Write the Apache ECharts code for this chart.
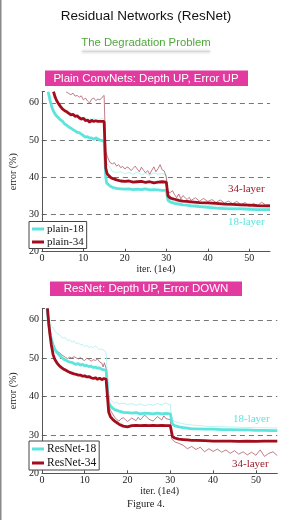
<!DOCTYPE html>
<html>
<head>
<meta charset="utf-8">
<script src="https://cdn.jsdelivr.net/npm/echarts@6/dist/echarts.min.js"></script>
<style>
html,body{margin:0;padding:0;background:#fff;}
#main{width:292px;height:520px;}
</style>
</head>
<body>
<div id="main"></div>
<script>
// axis ticks
var yTicks = [20, 30, 40, 50, 60];
var xTicks = [0, 10, 20, 30, 40, 50];

// plain nets (top chart): [iter (1e4), error %]
var plain18Val = [[1.5,63],[1.7,62],[2,60.5],[2.5,58.5],[3,57.3],[3.5,56.5],[4,56],[4.5,55.4],[5,55],[5.5,54.3],[6,54],[6.5,53.5],[7,53.2],[7.5,52.8],[8,52.5],[8.5,52.1],[9,52],[9.5,51.6],[10,51.2],[10.5,50.8],[11,50.9],[11.5,50.5],[12,50.6],[12.5,50.2],[13,50.6],[13.5,50.3],[14,50],[14.5,49.9],[15,49.6],[15.2,49.5],[15.4,40],[15.6,38.5],[16,38],[16.5,37.6],[17,37.3],[18,37],[19,36.9],[20,36.8],[21,36.9],[22,36.7],[23,36.8],[24,36.7],[25,36.9],[26,36.6],[27,36.7],[28,36.6],[29,36.5],[30,36.5],[30.2,36.4],[30.4,33.8],[31,33.3],[32,33],[33,32.8],[34,32.6],[35,32.5],[36,32.3],[38,32.1],[40,31.9],[42,31.7],[44,31.6],[46,31.5],[48,31.5],[50,31.4],[52,31.3],[55,31.3]];
var plain34Val = [[2.8,63],[3.2,61.5],[3.6,60.5],[4,59.8],[4.5,59],[5,58.3],[5.5,57.9],[6,57.6],[6.5,57.2],[7,56.8],[7.5,56.9],[8,56.4],[8.5,56.5],[9,56],[9.5,55.6],[10,55.9],[10.5,55.2],[11,55.4],[11.5,54.8],[12,55.3],[12.5,55],[13,55.2],[13.5,55],[14,55],[14.5,55],[15,55],[15.2,55],[15.4,42.5],[15.7,41],[16,40.5],[16.5,40],[17,39.7],[18,39.3],[19,39],[20,38.9],[21,39],[22,38.7],[23,38.8],[24,38.9],[25,38.6],[26,38.8],[27,38.5],[28,38.7],[29,38.8],[30,38.7],[30.2,38.6],[30.4,35],[31,34.4],[32,34.1],[33,33.8],[34,33.6],[35,33.5],[36,33.4],[38,33.2],[40,33.1],[42,33],[44,32.8],[46,32.7],[48,32.6],[50,32.5],[52,32.4],[55,32.3]];
var plain18Train = [[3,63],[4,60],[5,58.5],[6,57.5],[7,56.5],[7.5,57],[8,56],[8.5,56.6],[9,55.6],[9.5,56.2],[10,55.5],[10.5,56],[11,55],[11.5,55.8],[12,55.5],[12.5,56],[13,55.2],[13.5,55.8],[14,55.3],[14.5,56],[15,55.5],[15.2,55.6],[15.4,44],[16,43.2],[16.5,42.5],[17,41.6],[18,41.2],[19,41.5],[20,40.9],[21,41.3],[22,40.8],[23,41.4],[24,40.7],[25,41.1],[26,40.5],[27,41.2],[28,40.8],[29,41],[30,40.6],[30.2,40.6],[30.4,34.5],[31,34],[32,33.5],[33,33.2],[34,33.4],[36,32.9],[38,32.6],[40,32.4],[43,32.2],[46,32],[50,31.9],[55,31.8]];
var plain34Train = [[5.8,63],[6.5,62.5],[7,62.2],[7.5,62.6],[8,61.8],[8.5,62],[9,61.5],[9.5,61.9],[10,60.8],[10.5,61.3],[11,60.5],[11.5,60],[12,61],[12.5,61.3],[13,60.6],[13.5,61],[14,60.8],[14.5,61.5],[15,62],[15.2,61.8],[15.4,47],[15.8,45.5],[16.4,44],[17,43.6],[17.5,43.9],[18,43],[18.5,43.4],[19,42.6],[19.5,42.9],[20,42.2],[20.5,42.8],[21,42.5],[21.5,41.8],[22,42.4],[22.5,43],[23,42.2],[23.5,41.5],[24,42.7],[24.5,41.9],[25,41.2],[25.5,41.8],[26,40.8],[26.5,41.9],[27,42.8],[27.5,41.5],[28,42.3],[28.5,43.4],[29,42],[29.5,41.7],[30,40],[30.3,36.5],[30.8,35.8],[31.5,36.4],[32,35.3],[32.5,34.5],[33,35.5],[33.5,34.2],[34,35.1],[35,34],[35.5,34.6],[36,33.8],[37,34.5],[38,33.6],[39,34.3],[40,33.5],[41,34],[42,33.2],[43,33.9],[44,33.1],[45,33.6],[46,32.9],[47,33.5],[48,32.7],[49,33.2],[50,32.1],[51,33],[52,32.4],[53,33.3],[54,32.5],[55,32.6]];

// resnets (bottom chart)
var res18Val = [[1.2,63],[1.5,60],[1.8,57],[2.2,55],[2.6,53.5],[3,52.4],[3.5,51.5],[4,50.9],[4.5,50.3],[5,49.8],[5.5,49.5],[6,49.2],[6.5,49],[7,48.9],[7.5,48.6],[8,48.4],[8.5,48.6],[9,48.2],[9.5,48.4],[10,48],[10.5,48.1],[11,47.8],[11.5,47.9],[12,47.6],[12.5,47.7],[13,47.4],[13.5,47.5],[14,47.1],[14.5,47],[15,46.8],[15.3,46.6],[15.6,38.5],[16,37.6],[16.5,37],[17,36.6],[18,36.2],[19,35.9],[20,35.8],[21,35.7],[22,35.8],[23,35.5],[24,35.7],[25,35.6],[26,35.5],[27,35.7],[28,35.5],[29,35.6],[30,35.5],[30.2,35.4],[30.5,32.8],[31,32.4],[32,32.1],[33,31.9],[34,31.8],[35,31.6],[36,31.6],[38,31.5],[40,31.5],[42,31.4],[44,31.4],[46,31.3],[48,31.3],[50,31.2],[52,31.2],[54,31.1],[55,31.1]];
var res34Val = [[1.3,63],[1.6,59],[1.9,56],[2.2,53.5],[2.6,51],[3,49.7],[3.5,48.8],[4,48.1],[4.5,47.6],[5,47.2],[5.5,46.9],[6,46.6],[6.5,46.3],[7,46.1],[7.5,45.9],[8,45.8],[8.5,45.6],[9,45.6],[9.5,45.3],[10,45.4],[10.5,45.1],[11,45.2],[11.5,44.9],[12,44.7],[12.5,44.9],[13,44.5],[13.5,44.8],[14,44.4],[14.5,44.7],[15,44.5],[15.3,44.3],[15.6,36],[16,34.8],[16.5,34.1],[17,33.6],[17.5,33.2],[18,32.8],[19,32.3],[20,32.1],[21,32.4],[22,32.5],[23,32.4],[24,32.5],[25,32.4],[26,32.5],[27,32.4],[28,32.5],[29,32.4],[30,32.4],[30.2,32.3],[30.5,29.6],[31,29.2],[32,28.9],[33,28.8],[34,28.7],[35,28.6],[36,28.6],[38,28.5],[40,28.4],[42,28.4],[44,28.4],[46,28.3],[48,28.4],[50,28.3],[52,28.4],[55,28.4]];
var res18Train = [[1.1,63],[1.6,60],[2.2,58.5],[3,57.2],[3.5,56.5],[4,56.2],[4.5,55.6],[5,55.2],[5.5,55.4],[6,54.6],[6.5,54.8],[7,54.2],[7.5,54.5],[8,53.8],[8.5,54],[9,53.5],[9.5,53.6],[10,53],[10.5,53.4],[11,52.8],[11.5,53],[12,52.7],[12.5,53.2],[13,52.6],[13.5,52.2],[14,52.4],[14.5,52],[15,51.5],[15.3,51.2],[15.6,40],[16,39.2],[16.5,38.7],[17,38.3],[17.5,38.6],[18,38],[19,38.3],[20,37.9],[21,38.2],[22,37.7],[23,38.1],[24,37.6],[25,38],[26,37.7],[27,38.2],[28,37.8],[29,38.4],[29.5,37.9],[30,38],[30.3,34],[31,33.5],[32,33.2],[33,32.9],[34,32.7],[36,32.5],[38,32.3],[40,32.2],[43,32.1],[46,32],[50,31.9],[55,31.8]];
var res34Train = [[1.3,63],[1.8,58],[2.3,55],[3,52.5],[3.5,51.8],[4,51.5],[4.5,51],[5,50.6],[5.5,50.2],[6,49.9],[6.5,50.3],[7,50],[7.5,50.4],[8,50.1],[8.5,49.8],[9,50.2],[9.5,49.6],[10,49.4],[10.5,50],[11,49.7],[11.5,49.2],[12,49.6],[12.5,49.4],[13,49.8],[13.5,49],[14,48.7],[14.3,47.7],[14.6,48.8],[15,47.3],[15.3,47],[15.6,38],[16,36.5],[16.5,35.5],[17,34.6],[17.5,34],[18,33.6],[18.5,34.2],[19,34.5],[19.5,34],[20,33.5],[21,34.4],[22,33.7],[22.5,34.6],[23,33.9],[24,35.2],[25,34.1],[26,33.6],[27,34.8],[28,33.9],[28.5,35],[29,34.2],[30,34],[30.3,29],[31,28.2],[32,27.8],[33,27.3],[34,26.4],[35,27],[36,26.2],[37,26.8],[38,25.6],[39,26.4],[40,25.7],[41,26.3],[42,25.5],[43,26.1],[44,25.2],[45,25.9],[46,25],[47,25.6],[48,24.8],[49,25.5],[50,24.7],[51,26.1],[52,24.4],[53,25.2],[54,25.6],[55,24.6]];

var CYAN = '#5ce4dd', CYAN_LT = '#b4f0ee', RED = '#a20c1c', RED_LT = '#ad5c68';
var SERIF = '"Liberation Serif", "DejaVu Serif", serif';
var SANS = '"Liberation Sans", Arial, sans-serif';

function xAx(i){
    return {
        gridIndex:i, type:'value', min:0, max:55, interval:10,
        name:'iter. (1e4)', nameLocation:'middle', nameGap:11,
        nameTextStyle:{fontFamily:SERIF, fontSize:10, color:'#222'},
        axisLine:{lineStyle:{color:'#555', width:1}},
        axisTick:{inside:true, length:3, lineStyle:{color:'#555'}},
        axisLabel:{margin:2, fontFamily:SERIF, fontSize:10, color:'#222', showMaxLabel:false,
            formatter:function(v){ return xTicks.indexOf(v) >= 0 ? v : ''; }},
        splitLine:{show:false}
    };
}
function yAx(i){
    return {
        gridIndex:i, type:'value', min:20, max:63, interval:10,
        name:'error (%)', nameLocation:'middle', nameGap:14,
        nameTextStyle:{fontFamily:SERIF, fontSize:10, color:'#222'},
        axisLine:{show:true, lineStyle:{color:'#555', width:1}},
        axisTick:{inside:true, length:3, lineStyle:{color:'#555'}},
        axisLabel:{margin:3, fontFamily:SERIF, fontSize:10, color:'#222',
            formatter:function(v){ return yTicks.indexOf(v) >= 0 ? v : ''; }},
        splitLine:{show:true, showMinLine:false, showMaxLine:false,
            lineStyle:{color:'#777', type:[5,4], width:1}}
    };
}
function line(name, data, i, color, w, z){
    return {
        name:name, type:'line', xAxisIndex:i, yAxisIndex:i, data:data,
        showSymbol:false, symbol:'none', z:z,
        lineStyle:{color:color, width:w}, itemStyle:{color:color}
    };
}
function label(x, y, txt, color){
    return {type:'text', left:x, top:y, style:{text:txt, fill:color, font:'11px ' + SERIF}};
}

var chart = echarts.init(document.getElementById('main'));
chart.setOption({
    animation:false,
    grid:[
        {left:27.7, right:22, top:91.7, bottom:268.3},
        {left:26.7, right:14.7, top:308.3, bottom:46.7}
    ],
    xAxis:[xAx(0), xAx(1)],
    yAxis:[yAx(0), yAx(1)],
    legend:[
        {data:['plain-18','plain-34'], orient:'vertical', left:29, top:221.5,
         itemWidth:12, itemHeight:3, itemGap:2, icon:'rect', padding:[2,3,1,3],
         borderColor:'#444', borderWidth:1, backgroundColor:'#fff',
         textStyle:{fontFamily:SERIF, fontSize:11, color:'#111', padding:[0,0,0,-2]}},
        {data:['ResNet-18','ResNet-34'], orient:'vertical', left:29, top:441,
         itemWidth:12, itemHeight:3, itemGap:2, icon:'rect', padding:[2,3,1,3],
         borderColor:'#444', borderWidth:1, backgroundColor:'#fff',
         textStyle:{fontFamily:SERIF, fontSize:11.5, color:'#111', padding:[0,0,0,-2]}}
    ],
    series:[
        line('plain-18 train', plain18Train, 0, CYAN_LT, 0.9, 2),
        line('plain-34 train', plain34Train, 0, RED_LT, 0.8, 3),
        line('plain-18', plain18Val, 0, CYAN, 2.8, 4),
        line('plain-34', plain34Val, 0, RED, 2.8, 5),
        line('ResNet-18 train', res18Train, 1, CYAN_LT, 0.9, 2),
        line('ResNet-34 train', res34Train, 1, RED_LT, 0.8, 3),
        line('ResNet-18', res18Val, 1, CYAN, 2.8, 4),
        line('ResNet-34', res34Val, 1, RED, 2.8, 5)
    ],
    graphic:[
        {type:'rect', left:0, top:0, shape:{width:1.5, height:520}, style:{fill:'#8a8a8a'}},
        {type:'text', left:'center', top:9, style:{text:'Residual Networks (ResNet)', fill:'#111', font:'13.5px ' + SANS}},
        {type:'rect', left:82, top:51, shape:{width:128, height:1}, style:{fill:'#d8d8d8', shadowBlur:3, shadowColor:'#999'}},
        {type:'text', left:'center', top:37, style:{text:'The Degradation Problem', fill:'#4ea83a', font:'11.3px ' + SANS}},
        {type:'rect', left:45, top:70.5, shape:{width:203, height:15.5}, style:{fill:'#e23a9f'}},
        {type:'text', left:'center', top:72.5, style:{text:'Plain ConvNets: Depth UP, Error UP', fill:'#fff', font:'11.5px ' + SANS}},
        {type:'rect', left:50, top:281.5, shape:{width:192, height:14.5}, style:{fill:'#e23a9f'}},
        {type:'text', left:'center', top:283, style:{text:'ResNet: Depth UP, Error DOWN', fill:'#fff', font:'11.5px ' + SANS}},
        label(228, 184, '34-layer', '#9c1a2a'),
        label(228, 217, '18-layer', '#5ce4dd'),
        label(233, 414, '18-layer', '#5ce4dd'),
        label(232, 459, '34-layer', '#9c1a2a'),
        {type:'text', left:'center', top:499, style:{text:'Figure 4.', fill:'#222', font:'10.5px ' + SERIF}}
    ]
});
</script>
</body>
</html>
